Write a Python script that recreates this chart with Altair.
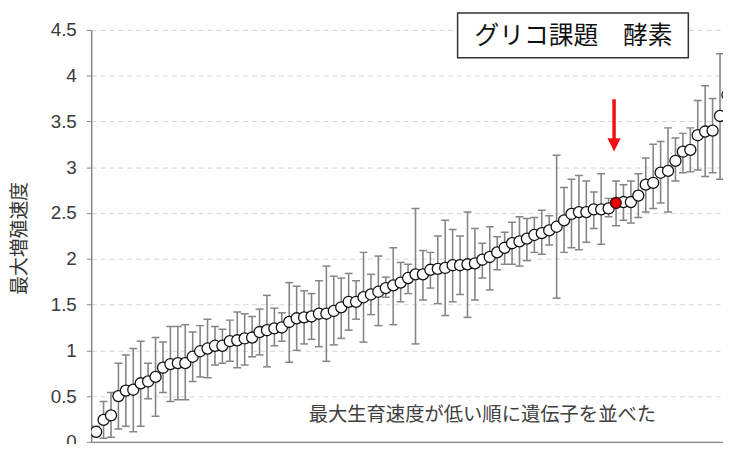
import altair as alt
import pandas as pd

# ---- data ----
means = [
    0.11, 0.24, 0.29, 0.50, 0.56, 0.57, 0.64, 0.66, 0.71, 0.81,
    0.85, 0.86, 0.86, 0.93, 0.99, 1.02, 1.05, 1.05, 1.10, 1.11,
    1.13, 1.14, 1.20, 1.22, 1.24, 1.25, 1.31, 1.35, 1.36, 1.37,
    1.40, 1.40, 1.43, 1.47, 1.53, 1.53, 1.58, 1.61, 1.64, 1.68,
    1.71, 1.74, 1.79, 1.83, 1.83, 1.88, 1.89, 1.90, 1.93, 1.93,
    1.94, 1.95, 1.99, 2.02, 2.07, 2.12, 2.17, 2.19, 2.22, 2.26,
    2.28, 2.31, 2.35, 2.42, 2.49, 2.51, 2.51, 2.54, 2.54, 2.55,
    2.61, 2.62, 2.62, 2.69, 2.81, 2.83, 2.94, 2.96, 3.07, 3.17,
    3.19, 3.35, 3.39, 3.40, 3.56, 3.79,
]
lows = [
    0.06, 0.04, 0.05, 0.14, 0.17, 0.11, 0.17, 0.47, 0.28, 0.54,
    0.44, 0.46, 0.46, 0.66, 0.71, 0.70, 0.84, 0.86, 0.88, 0.81,
    0.84, 0.93, 0.95, 0.82, 1.05, 1.10, 0.87, 1.00, 1.07, 1.12,
    1.04, 0.88, 1.06, 1.13, 1.22, 1.34, 1.09, 1.39, 1.27, 1.58,
    1.28, 1.53, 1.62, 1.07, 1.55, 1.68, 1.51, 1.38, 1.53, 1.61,
    1.36, 1.55, 1.79, 1.66, 1.88, 1.94, 1.94, 1.92, 1.98, 2.07,
    2.05, 2.15, 1.57, 2.07, 2.12, 2.10, 2.18, 2.33, 2.16, 2.46,
    2.36, 2.42, 2.39, 2.45, 2.51, 2.55, 2.61, 2.51, 2.85, 2.94,
    2.95, 2.97, 2.90, 2.94, 2.87, 3.40,
]
highs = [
    0.17, 0.44, 0.54, 0.86, 0.95, 1.02, 1.10, 0.86, 1.14, 1.09,
    1.26, 1.26, 1.28, 1.20, 1.27, 1.34, 1.26, 1.23, 1.33, 1.42,
    1.40, 1.37, 1.45, 1.60, 1.46, 1.41, 1.74, 1.70, 1.65, 1.62,
    1.76, 1.92, 1.81, 1.79, 1.84, 1.76, 2.07, 1.83, 2.03, 1.80,
    2.12, 1.96, 1.94, 2.55, 2.09, 2.07, 2.25, 2.42, 2.32, 2.25,
    2.51, 2.33, 2.17, 2.35, 2.24, 2.29, 2.40, 2.46, 2.44, 2.45,
    2.53, 2.47, 3.13, 2.78, 2.87, 2.91, 2.85, 2.73, 2.93, 2.66,
    2.85, 2.81, 2.85, 2.93, 3.10, 3.25, 3.28, 3.43, 3.32, 3.37,
    3.43, 3.73, 3.89, 3.75, 4.24, 4.30,
]
highlight_index = 71
y_ticks = [0, 0.5, 1, 1.5, 2, 2.5, 3, 3.5, 4, 4.5]
y_title = "最大増殖速度"
box_title = "グリコ課題　酵素"
note_text = "最大生育速度が低い順に遺伝子を並べた"

df = pd.DataFrame({
    "idx": list(range(1, len(means) + 1)),
    "mean": means,
    "low": lows,
    "high": highs,
})

W, H = 638, 416
step = 7.5
x_scale = alt.Scale(domain=[1 / 3, 1 / 3 + W / step], nice=False, zero=False)
y_scale = alt.Scale(domain=[0, 4.5], nice=False, zero=False)

GRAY = "#858585"

x_enc = alt.X("idx:Q", scale=x_scale,
              axis=alt.Axis(labels=False, ticks=False, grid=False, title=None,
                            domainColor=GRAY, domainWidth=1.5))
y_axis = alt.Axis(values=y_ticks, format="~g", title=y_title, grid=True,
                  gridDash=[5, 4], gridColor="#d4d4d4", gridWidth=1,
                  domainColor=GRAY, domainWidth=1.5, tickColor=GRAY, tickSize=5,
                  labelFont="Liberation Sans", labelFontSize=19, labelColor="#3a3a3a",
                  labelPadding=10,
                  titleFont="Noto Sans CJK JP", titleFontSize=19, titleColor="#333333",
                  titleFontWeight="normal", titleAngle=270, titleX=-72, titleY=H / 2 + 2,
                  titleAlign="center", titleBaseline="middle")

base = alt.Chart(df)

bars = base.mark_rule(color=GRAY, strokeWidth=1.6, clip=True).encode(
    x=x_enc, y=alt.Y("low:Q", scale=y_scale, axis=y_axis), y2="high:Q")
cap_lo = base.mark_tick(color=GRAY, thickness=1.5, size=8, orient="horizontal",
                        clip=True, opacity=1).encode(x=x_enc, y=alt.Y("low:Q", scale=y_scale))
cap_hi = base.mark_tick(color=GRAY, thickness=1.5, size=8, orient="horizontal",
                        clip=True, opacity=1).encode(x=x_enc, y=alt.Y("high:Q", scale=y_scale))
pts = base.mark_point(shape="circle", filled=True, fill="white", stroke="#111111",
                      strokeWidth=1.3, size=125, opacity=1, clip=True).encode(
    x=x_enc, y=alt.Y("mean:Q", scale=y_scale))
red = base.transform_filter(alt.datum.idx == highlight_index).mark_point(
    shape="circle", filled=True, fill="#e60000", stroke="#5a0000", strokeWidth=1.2,
    size=110, opacity=1).encode(x=x_enc, y=alt.Y("mean:Q", scale=y_scale))

one = pd.DataFrame({"a": [0]})
box = alt.Chart(one).mark_rect(fill="white", stroke="#333333", strokeWidth=1.5).encode(
    x=alt.value(370), x2=alt.value(603), y=alt.value(-17), y2=alt.value(28))
box_text = alt.Chart(one).mark_text(text=box_title, font="Noto Sans CJK JP", fontSize=25,
                                    color="#111111", align="center", baseline="middle").encode(
    x=alt.value(487), y=alt.value(6))
note = alt.Chart(one).mark_text(text=note_text, font="Noto Sans CJK JP", fontSize=19.5,
                                color="#404040", align="center", baseline="middle").encode(
    x=alt.value(395), y=alt.value(389))
arrow_line = alt.Chart(one).mark_rule(color="#ee1111", strokeWidth=3.5).encode(
    x=alt.value(528), y=alt.value(70), y2=alt.value(113))
arrow_head = alt.Chart(one).mark_point(shape="M -1 -1 L 1 -1 L 0 1 Z", filled=True,
                                       fill="#ee1111", strokeWidth=0, size=180, opacity=1).encode(
    x=alt.value(528), y=alt.value(116))

chart = alt.layer(bars, cap_lo, cap_hi, pts, red, box, box_text, note, arrow_line, arrow_head).properties(
    width=W, height=H, autosize="none",
    padding={"left": 84, "top": 20, "right": 0, "bottom": 0},
).configure_view(strokeWidth=0)

chart.save("out.html", embed_options={"renderer": "svg", "actions": False})
